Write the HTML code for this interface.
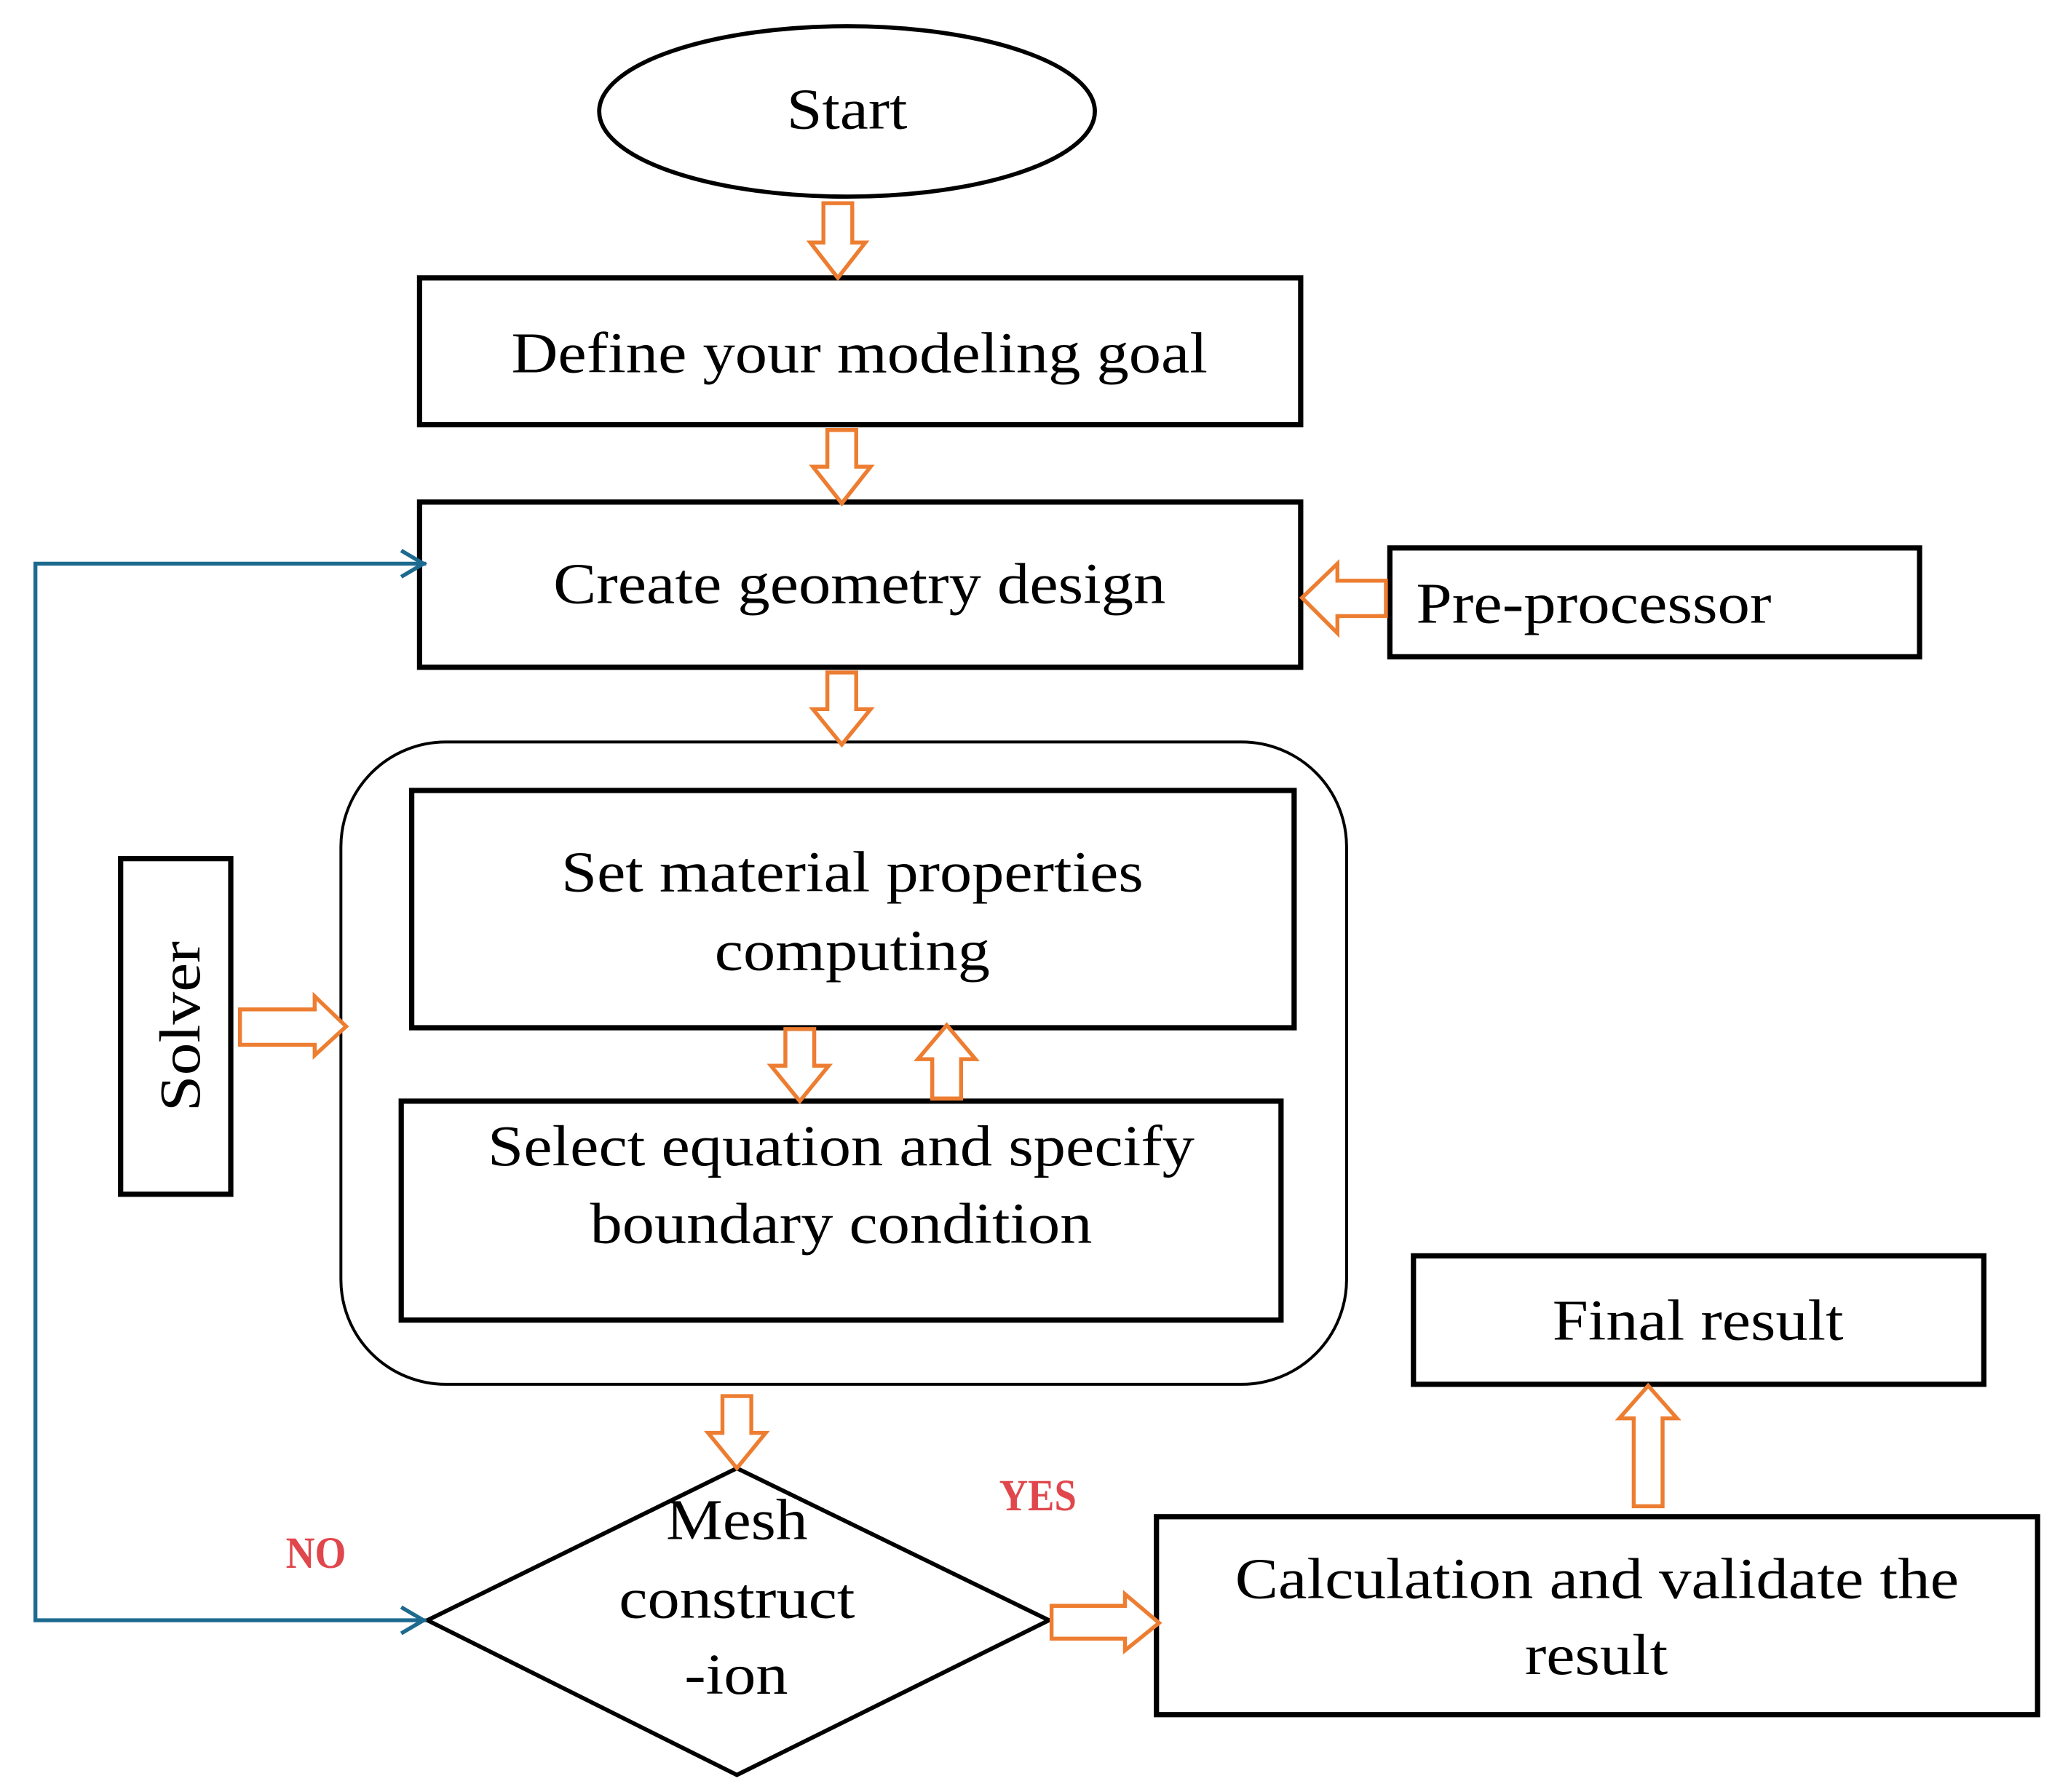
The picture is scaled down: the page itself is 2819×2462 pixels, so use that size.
<!DOCTYPE html>
<html><head><meta charset="utf-8"><style>
html,body{margin:0;padding:0;background:#fff;}
svg{display:block;}
text{font-family:"Liberation Serif","Times New Roman",serif;fill:#000;}
</style></head><body>
<svg width="2819" height="2462" viewBox="0 0 1565 1367" preserveAspectRatio="none" xmlns="http://www.w3.org/2000/svg">
<g fill="#fff" stroke="#000">
<ellipse cx="646" cy="85" rx="189" ry="65" stroke-width="3.2"/>
<rect x="320" y="212" width="672" height="112" stroke-width="4"/>
<rect x="320" y="383" width="672" height="126" stroke-width="4"/>
<rect x="1060" y="418" width="404" height="83" stroke-width="4"/>
<rect x="260" y="566" width="767" height="490" rx="80" ry="80" stroke-width="2.2"/>
<rect x="314" y="603" width="673" height="181" stroke-width="4"/>
<rect x="306" y="840" width="671" height="167" stroke-width="4"/>
<rect x="92" y="655" width="84" height="256" stroke-width="4"/>
<rect x="1078" y="958" width="435" height="98" stroke-width="4"/>
<rect x="882" y="1157" width="672" height="151" stroke-width="4"/>
<polygon points="562,1120 800,1236 562,1354 326,1236" stroke-width="3.2"/>
</g>
<g fill="none" stroke="#1d6a8f" stroke-width="3">
<polyline points="325,430 27,430 27,1236 325,1236"/>
<polyline points="306,420 323,430 306,440"/>
<polyline points="306,1226 323,1236 306,1246"/>
</g>
<g fill="#fff" stroke="#ed7d31" stroke-width="3" stroke-linejoin="miter">
<polygon points="628,155 650,155 650,185 660,185 639,212 618,185 628,185"/>
<polygon points="631,328 653,328 653,356 664,356 642,384 620,356 631,356"/>
<polygon points="631,513 653,513 653,541 664,541 642,568 620,541 631,541"/>
<polygon points="599,785 621,785 621,813 632,813 610,840 588,813 599,813"/>
<polygon points="551,1065 573,1065 573,1093 584,1093 562,1120 540,1093 551,1093"/>
<polygon points="711,838 733,838 733,808 744,808 722,782 700,808 711,808"/>
<polygon points="1246,1149 1268,1149 1268,1082 1279,1082 1257,1057 1235,1082 1246,1082"/>
<polygon points="1057,443 1057,470 1020,470 1020,483 993,456 1020,430 1020,443"/>
<polygon points="183,770 240,770 240,760 264,783 240,805 240,797 183,797"/>
<polygon points="802,1225 858,1225 858,1216 884,1238 858,1259 858,1250 802,1250"/>
</g>
<g font-size="44">
<text x="646" y="98" text-anchor="middle" textLength="92" lengthAdjust="spacingAndGlyphs">Start</text>
<text x="390" y="284" textLength="531" lengthAdjust="spacingAndGlyphs">Define your modeling goal</text>
<text x="422" y="460" textLength="467" lengthAdjust="spacingAndGlyphs">Create geometry design</text>
<text x="1080" y="475" textLength="271" lengthAdjust="spacingAndGlyphs">Pre-processor</text>
<text x="428" y="680" textLength="444" lengthAdjust="spacingAndGlyphs">Set material properties</text>
<text x="545" y="740" textLength="210" lengthAdjust="spacingAndGlyphs">computing</text>
<text x="372" y="889" textLength="539" lengthAdjust="spacingAndGlyphs">Select equation and specify</text>
<text x="450" y="948" textLength="383" lengthAdjust="spacingAndGlyphs">boundary condition</text>
<text x="1184" y="1022" textLength="222" lengthAdjust="spacingAndGlyphs">Final result</text>
<text x="942" y="1219" textLength="552" lengthAdjust="spacingAndGlyphs">Calculation and validate the</text>
<text x="1163" y="1277" textLength="109" lengthAdjust="spacingAndGlyphs">result</text>
<text x="508" y="1174" textLength="108" lengthAdjust="spacingAndGlyphs">Mesh</text>
<text x="472" y="1234" textLength="180" lengthAdjust="spacingAndGlyphs">construct</text>
<text x="522" y="1292" textLength="79" lengthAdjust="spacingAndGlyphs">-ion</text>
<text transform="translate(152,848) rotate(-90)" textLength="130" lengthAdjust="spacingAndGlyphs">Solver</text>
</g>
<g font-size="34" font-weight="bold">
<text x="218" y="1196" textLength="46" lengthAdjust="spacingAndGlyphs" style="fill:#e0474c">NO</text>
<text x="762" y="1152" textLength="59" lengthAdjust="spacingAndGlyphs" style="fill:#e0474c">YES</text>
</g>
</svg>
</body></html>
